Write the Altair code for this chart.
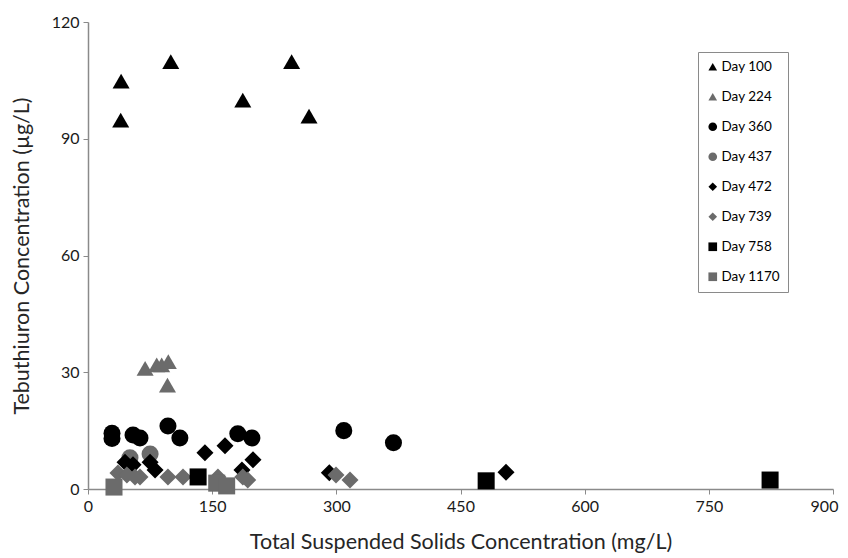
import altair as alt
import pandas as pd

# Series values (x: TSS mg/L, y: Tebuthiuron µg/L)
day100_x = [40, 39.5, 100, 187, 246, 267]
day100_y = [104.8, 94.8, 109.8, 99.9, 109.8, 95.8]

day224_x = [69, 83, 89, 97, 96]
day224_y = [31.0, 31.9, 31.9, 32.7, 26.7]

day360_x = [29, 29, 54.4, 62.8, 96.6, 111, 181, 198, 309, 369]
day360_y = [14.3, 13.0, 13.9, 13.1, 16.2, 13.1, 14.2, 13.1, 15.0, 11.9]

day437_x = [50.7, 75]
day437_y = [8.0, 9.0]

day472_x = [44.7, 54.4, 75, 81, 141.3, 165.5, 186, 199.3, 291.5, 505]
day472_y = [6.9, 6.2, 6.9, 4.9, 9.3, 11.1, 4.9, 7.5, 4.2, 4.3]

day739_x = [36.2, 47, 56.8, 62.8, 96.6, 114.8, 157, 187, 193, 299.6, 316.5]
day739_y = [4.1, 3.6, 3.1, 3.1, 3.1, 3.1, 3.1, 3.1, 2.3, 3.6, 2.3]

day758_x = [133, 481, 824]
day758_y = [3.1, 2.1, 2.3]

day1170_x = [31.4, 155.5, 167.5]
day1170_y = [0.5, 1.5, 0.8]

series_names = ["Day 100", "Day 224", "Day 360", "Day 437",
                "Day 472", "Day 739", "Day 758", "Day 1170"]
series_x = [day100_x, day224_x, day360_x, day437_x,
            day472_x, day739_x, day758_x, day1170_x]
series_y = [day100_y, day224_y, day360_y, day437_y,
            day472_y, day739_y, day758_y, day1170_y]

x_ticks = [0, 150, 300, 450, 600, 750, 900]
y_ticks = [0, 30, 60, 90, 120]

rows = []
order = 0
for name, xs, ys in zip(series_names, series_x, series_y):
    for xv, yv in zip(xs, ys):
        rows.append({"Series": name, "TSS": xv, "Teb": yv, "order": order})
        order += 1
df = pd.DataFrame(rows)

BLACK = "#000000"
GREY = "#6b6b6b"
colors = [BLACK, GREY, BLACK, GREY, BLACK, GREY, BLACK, GREY]
shapes = ["triangle-up", "triangle-up", "circle", "circle",
          "diamond", "diamond", "square", "square"]
FONT = "Lato"

legend = alt.Legend(
    title=None, orient="none", legendX=610, legendY=30,
    strokeColor="#8a8a8a", padding=8, rowPadding=15,
    labelFont=FONT, labelFontSize=13.5, labelColor="#000000",
    symbolSize=75, symbolStrokeWidth=0, labelOffset=2,
)

chart = alt.Chart(df).mark_point(filled=True, opacity=1, size=290).encode(
    x=alt.X("TSS:Q", scale=alt.Scale(domain=[0, 900], nice=False),
            axis=alt.Axis(values=x_ticks, title="Total Suspended Solids Concentration (mg/L)",
                          titlePadding=17, labelFlush=False,
                          labelOffset={"condition": {"test": "datum.value == 900", "value": -9},
                                       "value": 0})),
    y=alt.Y("Teb:Q", scale=alt.Scale(domain=[0, 120], nice=False),
            axis=alt.Axis(values=y_ticks, title="Tebuthiuron Concentration (µg/L)",
                          titlePadding=18, labelFlush=False)),
    color=alt.Color("Series:N", scale=alt.Scale(domain=series_names, range=colors),
                    legend=legend, sort=series_names),
    shape=alt.Shape("Series:N", scale=alt.Scale(domain=series_names, range=shapes),
                    legend=legend, sort=series_names),
    order=alt.Order("order:Q"),
).properties(
    width=745, height=467,
    autosize=alt.AutoSizeParams(type="none"),
    padding={"left": 80, "top": 14, "right": 7, "bottom": 67},
).configure_view(stroke=None).configure_axis(
    grid=False, labelFont=FONT, titleFont=FONT, labelFontSize=16, titleFontSize=21.5,
    titleFontWeight="normal", labelColor="#1a1a1a", titleColor="#262626",
    domainColor="#8a8a8a", tickColor="#8a8a8a", tickSize=5, labelPadding=4,
    domainWidth=1.5,
)

chart.save("out.html", embed_options={"renderer": "svg", "actions": False})
